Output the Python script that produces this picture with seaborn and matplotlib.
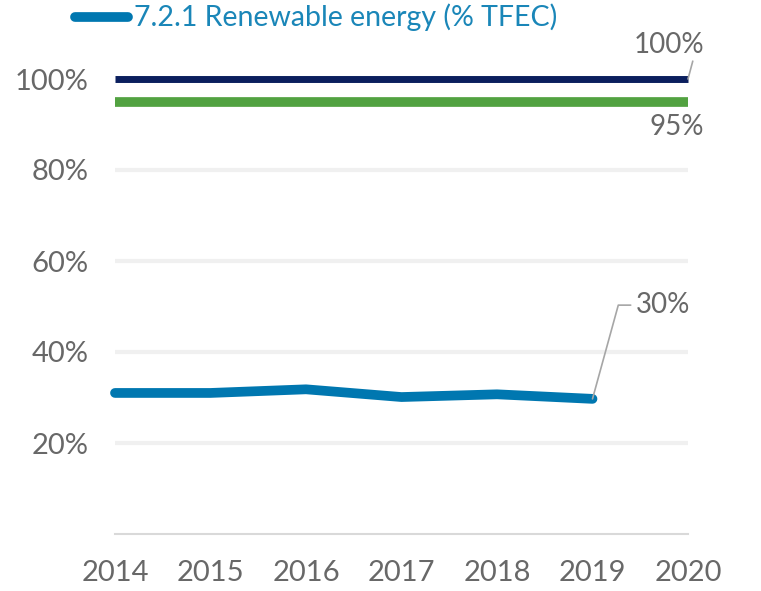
import matplotlib
matplotlib.use("Agg")
import matplotlib.pyplot as plt
import pandas as pd
import seaborn as sns

# data
years = [2014, 2015, 2016, 2017, 2018, 2019]
renewable = [31.0, 31.0, 31.8, 30.1, 30.7, 29.7]
target_years = [2014, 2020]
target_100 = [100, 100]
target_95 = [95, 95]
tick_years = [2014, 2015, 2016, 2017, 2018, 2019, 2020]
ytick_vals = [20, 40, 60, 80, 100]

sns.set_style("white")
plt.rcParams["font.family"] = ["Lato", "DejaVu Sans"]

df = pd.DataFrame({"year": years, "value": renewable})
tgt = pd.DataFrame({"year": target_years, "t100": target_100, "t95": target_95})

fig = plt.figure(figsize=(7.61, 5.91), dpi=100)
ax = fig.add_axes([115 / 761, 57 / 591, (688 - 115) / 761, (534 - 79) / 591])

grey_txt = "#686868"

sns.lineplot(data=tgt, x="year", y="t100", ax=ax, color="#0b1f5e", lw=5,
             solid_capstyle="butt", clip_on=False, zorder=3)
sns.lineplot(data=tgt, x="year", y="t95", ax=ax, color="#52a241", lw=7,
             solid_capstyle="butt", clip_on=False, zorder=3)
sns.lineplot(data=df, x="year", y="value", ax=ax, color="#0077b0", lw=7,
             solid_capstyle="round", clip_on=False, zorder=4)

ax.set_xlim(2014, 2020)
ax.set_ylim(0, 100)
ax.set_xticks(tick_years)
ax.set_xticklabels([str(y) for y in tick_years])
ax.set_yticks(ytick_vals)
ax.set_yticklabels([f"{v}%" for v in ytick_vals])
ax.set_xlabel("")
ax.set_ylabel("")

for v in ytick_vals[:-1]:
    ax.axhline(v, color="#f0f0f0", lw=3, zorder=1)

for s in ["top", "right", "left"]:
    ax.spines[s].set_visible(False)
ax.spines["bottom"].set_color("#d9d9d9")
ax.spines["bottom"].set_linewidth(1.5)
ax.tick_params(axis="x", direction="out", length=10, width=1.5, color="#d9d9d9",
               labelsize=21, labelcolor=grey_txt, pad=9)
ax.tick_params(axis="y", length=0, labelsize=21, labelcolor=grey_txt, pad=19)

# value labels
ax.annotate("100%", xy=(2020, 100), xytext=(2020.17, 107.5), color=grey_txt,
            fontsize=20, ha="right", va="center", annotation_clip=False,
            arrowprops=dict(arrowstyle="-", color="#a6a6a6", lw=1.2,
                            shrinkA=0, shrinkB=0, relpos=(0.85, 0)))
ax.text(2020.17, 89.5, "95%", color=grey_txt, fontsize=20,
        ha="right", va="center")
ax.plot([2019, 2019.27, 2019.4], [29.7, 50.3, 50.3], color="#a6a6a6", lw=1.2,
        zorder=5, clip_on=False)
ax.text(2019.45, 50.3, "30%", color=grey_txt, fontsize=20,
        ha="left", va="center")

# legend
fig.lines.append(plt.Line2D([75 / 761, 128 / 761], [1 - 17 / 591, 1 - 17 / 591],
                            transform=fig.transFigure, color="#0077b0", lw=7,
                            solid_capstyle="round"))
fig.text(134 / 761, 1 - 17 / 591, "7.2.1 Renewable energy (% TFEC)",
         color="#1a86b8", fontsize=20.5, va="center", ha="left")

fig.savefig("out.png", dpi=100)
